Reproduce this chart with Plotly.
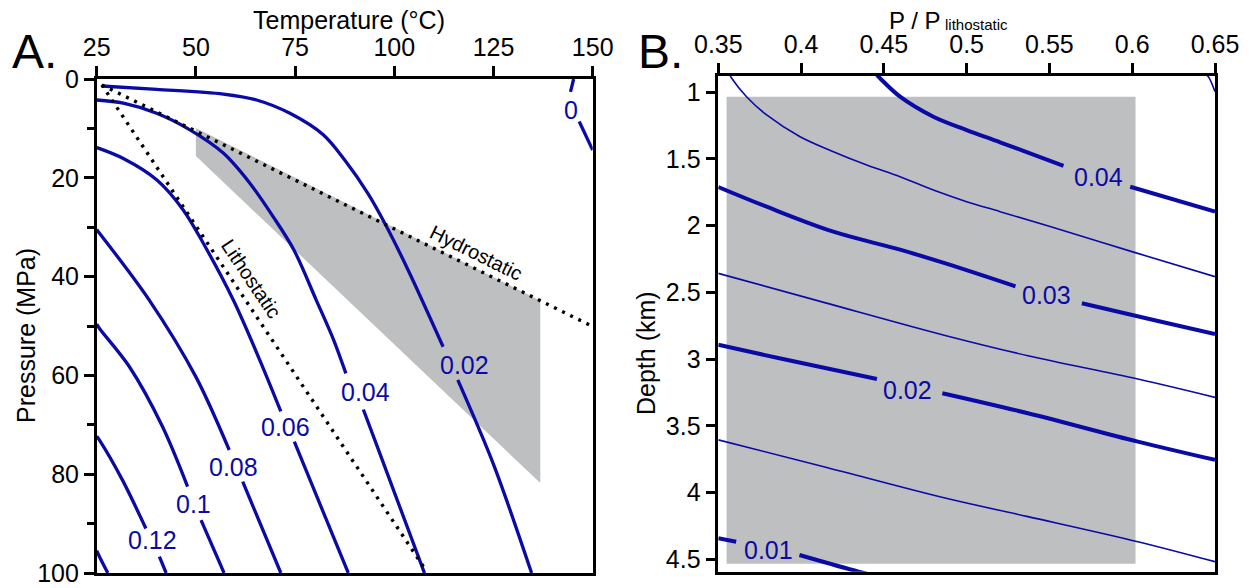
import plotly.graph_objects as go

# ---------------- Panel A data (Temperature °C vs Pressure MPa) ----------------
c0_T = [145.2, 144.4, None, 146.6, 150.0]
c0_P = [0.0, 2.6, None, 8.6, 14.4]

c002_T = [26.25, 40.1, 56.9, 65.3, 73.7, 82.1, 87.5, 93.3, 97.6, 103.5, 112.3, None, 116.0, 125.0, 134.6]
c002_P = [1.42, 2.09, 3.04, 4.25, 6.95, 11.3, 16.4, 23.1, 29.2, 38.7, 54.2, None, 60.9, 78.0, 100.0]

c004_T = [25.0, 31.7, 40.1, 48.5, 56.9, 63.6, 69.5, 74.7, 80.3, 84.7, 87.8, None, 92.2, 95.1, 107.6]
c004_P = [4.25, 4.9, 6.95, 10.3, 15.0, 21.1, 27.9, 34.6, 44.7, 52.8, 59.6, None, 66.9, 73.1, 100.0]

c006_T = [25.0, 25.4, 31.7, 40.1, 46.8, 51.9, 59.4, 66.1, 71.4, None, 74.8, 88.4]
c006_P = [13.9, 14.0, 16.1, 20.4, 26.5, 33.3, 44.7, 56.9, 67.3, None, 73.4, 100.0]

c008_T = [25.0, 25.4, 38.2, 50.0, 58.4, None, 61.8, 71.4]
c008_P = [30.5, 30.9, 44.7, 60.3, 75.1, None, 81.5, 100.0]

c010_T = [25.0, 25.7, 33.2, 41.6, 47.9, None, 51.3, 57.1]
c010_P = [49.6, 50.5, 58.2, 70.4, 82.5, None, 89.3, 100.0]

c012_T = [25.0, 25.7, 31.5, 37.4, None, 40.8, 42.5]
c012_P = [72.3, 73.1, 81.2, 91.0, None, 96.7, 100.0]

c014_T = [25.0, 25.7, 27.8]
c014_P = [95.5, 96.7, 100.0]

hyd_T = [26.3, 150.0]
hyd_P = [1.2, 50.1]
lit_T = [26.3, 108.0]
lit_P = [1.2, 99.5]

grayA_T = [50.0, 136.8, 136.8, 50.0]
grayA_P = [9.9, 44.9, 81.8, 15.6]

labA_text = ["0", "0.02", "0.04", "0.06", "0.08", "0.1", "0.12"]
labA_T = [144.6, 117.6, 92.8, 72.6, 59.4, 49.4, 39.1]
labA_P = [6.3, 57.9, 63.4, 70.4, 78.5, 86.0, 93.3]

A_xticks = [25, 50, 75, 100, 125, 150]
A_yticks = [0, 20, 40, 60, 80, 100]

# ---------------- Panel B data (P/Plith vs Depth km) ----------------
r045_x = [0.6445, 0.646, 0.65]
r045_d = [0.870, 0.883, 0.995]

r040_x = [0.4457, 0.4477, 0.4598, 0.4799, 0.5, 0.5202, 0.5585, None, 0.5988, 0.65]
r040_d = [0.870, 0.895, 1.033, 1.183, 1.283, 1.375, 1.552, None, 1.708, 1.895]

r035_x = [0.3570, 0.3581, 0.3672, 0.3792, 0.3994, 0.4195, 0.4397, 0.4598, 0.4799, 0.5, 0.5202, 0.5504, 0.6018, 0.65]
r035_d = [0.870, 0.895, 1.035, 1.170, 1.333, 1.445, 1.545, 1.633, 1.733, 1.820, 1.895, 2.007, 2.202, 2.382]

r030_x = [0.35, 0.3792, 0.4195, 0.4598, 0.4877, 0.5295, None, 0.5696, 0.6129, 0.65]
r030_d = [1.71, 1.858, 2.045, 2.18, 2.285, 2.455, None, 2.582, 2.707, 2.8125]

r025_x = [0.35, 0.4137, 0.4876, 0.537, 0.6034, 0.65]
r025_d = [2.3575, 2.575, 2.825, 2.975, 3.15, 3.2875]

r020_x = [0.35, 0.389, 0.4458, None, 0.4853, 0.537, 0.6034, 0.65]
r020_d = [2.8925, 3.0, 3.15, None, 3.256, 3.406, 3.619, 3.756]

r015_x = [0.35, 0.4137, 0.4876, 0.537, 0.6034, 0.65]
r015_d = [3.606, 3.807, 4.044, 4.181, 4.369, 4.519]

r010_x = [0.35, 0.3608, None, 0.399, 0.4347, 0.445]
r010_d = [4.343, 4.369, None, 4.469, 4.594, 4.625]

grayB_x = [0.355, 0.602, 0.602, 0.355]
grayB_d = [1.033, 1.033, 4.534, 4.534]

labB_text = ["0.04", "0.03", "0.02", "0.01"]
labB_x = [0.5796, 0.5484, 0.4643, 0.3805]
labB_d = [1.637, 2.520, 3.232, 4.431]

B_xticks = [0.35, 0.4, 0.45, 0.5, 0.55, 0.6, 0.65]
B_xticktext = ["0.35", "0.4", "0.45", "0.5", "0.55", "0.6", "0.65"]
B_yticks = [1, 1.5, 2, 2.5, 3, 3.5, 4, 4.5]
B_yticktext = ["1", "1.5", "2", "2.5", "3", "3.5", "4", "4.5"]

# ---------------- styling ----------------
BLUE = "#0a0aa6"
GRAY = "#bebfc1"
FONT = "Liberation Sans, Arial, sans-serif"
W, H = 1256, 588

fig = go.Figure()

# Panel A
fig.add_trace(go.Scatter(x=grayA_T, y=grayA_P, fill="toself", fillcolor=GRAY,
                         line=dict(width=0), mode="lines", hoverinfo="skip",
                         xaxis="x", yaxis="y"))
for tx, py in [(c0_T, c0_P), (c002_T, c002_P), (c004_T, c004_P), (c006_T, c006_P),
               (c008_T, c008_P), (c010_T, c010_P), (c012_T, c012_P), (c014_T, c014_P)]:
    fig.add_trace(go.Scatter(x=tx, y=py, mode="lines",
                             line=dict(color=BLUE, width=3.3, shape="spline", smoothing=0.9),
                             connectgaps=False, xaxis="x", yaxis="y"))
for tx, py in [(hyd_T, hyd_P), (lit_T, lit_P)]:
    fig.add_trace(go.Scatter(x=tx, y=py, mode="lines",
                             line=dict(color="black", width=3.4, dash="3px,6px"),
                             xaxis="x", yaxis="y"))

# Panel B
fig.add_trace(go.Scatter(x=grayB_x, y=grayB_d, fill="toself", fillcolor=GRAY,
                         line=dict(width=0), mode="lines", hoverinfo="skip",
                         xaxis="x2", yaxis="y2"))
for xx, dd in [(r045_x, r045_d), (r035_x, r035_d), (r025_x, r025_d), (r015_x, r015_d)]:
    fig.add_trace(go.Scatter(x=xx, y=dd, mode="lines",
                             line=dict(color=BLUE, width=1.6, shape="spline", smoothing=1.0),
                             xaxis="x2", yaxis="y2"))
for xx, dd in [(r040_x, r040_d), (r030_x, r030_d), (r020_x, r020_d), (r010_x, r010_d)]:
    fig.add_trace(go.Scatter(x=xx, y=dd, mode="lines",
                             line=dict(color=BLUE, width=4, shape="spline", smoothing=1.0),
                             connectgaps=False, xaxis="x2", yaxis="y2"))

annotations = []
for t, xv, yv in zip(labA_text, labA_T, labA_P):
    annotations.append(dict(x=xv, y=yv, xref="x", yref="y", text=t, showarrow=False,
                            font=dict(family=FONT, size=25, color=BLUE),
                            xanchor="center", yanchor="middle"))
for t, xv, yv in zip(labB_text, labB_x, labB_d):
    annotations.append(dict(x=xv, y=yv, xref="x2", yref="y2", text=t, showarrow=False,
                            font=dict(family=FONT, size=25, color=BLUE),
                            xanchor="center", yanchor="middle"))

annotations.append(dict(x=120.7, y=35.3, xref="x", yref="y", text="Hydrostatic", showarrow=False,
                        textangle=26.2, font=dict(family=FONT, size=20, color="black"),
                        xanchor="center", yanchor="middle"))
annotations.append(dict(x=64.0, y=40.5, xref="x", yref="y", text="Lithostatic", showarrow=False,
                        textangle=56.1, font=dict(family=FONT, size=20, color="black"),
                        xanchor="center", yanchor="middle"))


def paper(X, Y):
    return X / W, 1 - Y / H


for text, X, Y, size, ang, xa in [
    ("A.", 10, 51, 48, 0, "left"),
    ("B.", 636, 51, 48, 0, "left"),
    ("Temperature (°C)", 349, 20, 25, 0, "center"),
    ("P / P", 915, 20, 24, 0, "center"),
    ("lithostatic", 943, 25, 15, 0, "left"),
    ("Pressure (MPa)", 26, 336, 25, -90, "center"),
    ("Depth (km)", 646, 353, 25, -90, "center"),
]:
    px, py = paper(X, Y)
    annotations.append(dict(x=px, y=py, xref="paper", yref="paper", text=text, showarrow=False,
                            textangle=ang, font=dict(family=FONT, size=size, color="black"),
                            xanchor=xa, yanchor="middle"))

axis_common = dict(showline=True, linecolor="black", linewidth=2.5, mirror=True,
                   ticks="outside", ticklen=10, tickwidth=2.5, tickcolor="black",
                   showgrid=False, zeroline=False, automargin=False,
                   tickfont=dict(family=FONT, size=25, color="black"))

fig.update_layout(
    width=W, height=H,
    margin=dict(l=0, r=0, t=0, b=0, autoexpand=False),
    paper_bgcolor="white", plot_bgcolor="white",
    showlegend=False,
    xaxis=dict(domain=[96.7 / W, 592.7 / W], range=[25, 150], side="top", anchor="y",
               tickvals=A_xticks, **axis_common),
    yaxis=dict(domain=[1 - 573 / H, 1 - 79 / H], range=[100, 0], anchor="x",
               tickvals=A_yticks,
               minor=dict(ticks="outside", ticklen=7, tickwidth=2.5, tickcolor="black",
                          tick0=0, dtick=10, showgrid=False),
               **axis_common),
    xaxis2=dict(domain=[718.3 / W, 1215 / W], range=[0.35, 0.65], side="top", anchor="y2",
                tickvals=B_xticks, ticktext=B_xticktext, **axis_common),
    yaxis2=dict(domain=[1 - 571.7 / H, 1 - 76 / H], range=[4.594, 0.878], anchor="x2",
                tickvals=B_yticks, ticktext=B_yticktext, **axis_common),
    annotations=annotations,
)

fig.write_html("out.html")
